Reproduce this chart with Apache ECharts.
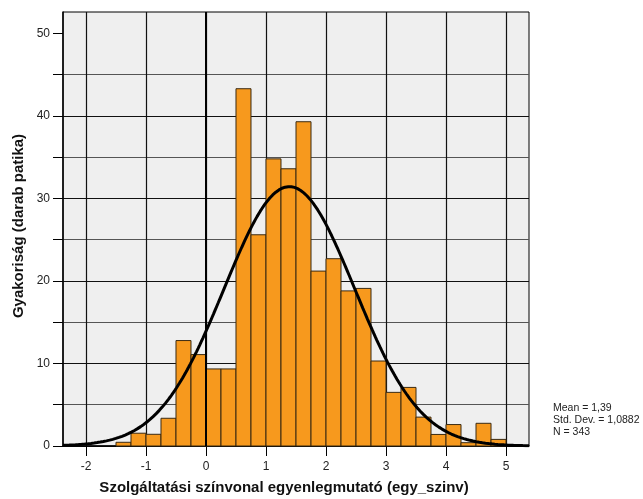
<!DOCTYPE html>
<html>
<head>
<meta charset="utf-8">
<script src="https://cdn.jsdelivr.net/npm/echarts@6/dist/echarts.min.js"></script>
<style>
  html, body { margin: 0; padding: 0; background: #ffffff; }
  #chart { width: 643px; height: 499px; }
</style>
</head>
<body>
<div id="chart"></div>
<script>
// Histogram bins (lower edges) and weighted frequencies
const binStarts = [-1.5, -1.25, -1, -0.75, -0.5, -0.25, 0, 0.25, 0.5, 0.75, 1, 1.25, 1.5,
                   1.75, 2, 2.25, 2.5, 2.75, 3, 3.25, 3.5, 3.75, 4, 4.25, 4.5, 4.75];
const binWidth = 0.25;
const counts = [0.45, 1.55, 1.42, 3.36, 12.78, 11.08, 9.34, 9.34, 43.3, 25.6, 34.8, 33.6, 39.3,
                21.2, 22.7, 18.8, 19.1, 10.3, 6.5, 7.1, 3.5, 1.4, 2.6, 0.4, 2.75, 0.8];

// Summary statistics shown beside the chart
const mean = 1.39;
const stdDev = 1.0882;
const nCases = 343;

// Axis ranges and tick labels
const xRange = [-2.383, 5.383];
const xTicks = [-2, -1, 0, 1, 2, 3, 4, 5];
const yRange = [0, 52.6];
const yTicks = [0, 10, 20, 30, 40, 50];
const yMinorTicks = [0, 5, 10, 15, 20, 25, 30, 35, 40, 45, 50];

const barData = binStarts.map((s, i) => [s, s + binWidth, counts[i]]);

// Normal curve fitted with the stated mean, std. dev. and N (scaled to bin width)
const curveData = [];
const steps = 300;
for (let k = 0; k <= steps; k++) {
  const x = xRange[0] + (xRange[1] - xRange[0]) * k / steps;
  const z = (x - mean) / stdDev;
  const y = nCases * binWidth / (stdDev * Math.sqrt(2 * Math.PI)) * Math.exp(-0.5 * z * z);
  curveData.push([x, y]);
}

const fontMain = "'Liberation Sans', Arial, sans-serif";

const chart = echarts.init(document.getElementById('chart'), null, { renderer: 'canvas' });

chart.setOption({
  animation: false,
  backgroundColor: '#ffffff',
  grid: {
    left: 63, top: 12, right: 114, bottom: 53,
    show: true,
    backgroundColor: '#efefef',
    borderColor: '#000000',
    borderWidth: 1,
    containLabel: false
  },
  xAxis: {
    type: 'value',
    min: xRange[0],
    max: xRange[1],
    splitNumber: 8,
    axisLine: { show: true, onZero: false, lineStyle: { color: '#000', width: 1.5 } },
    axisTick: { show: true, length: 10, customValues: xTicks, lineStyle: { color: '#000', width: 1 } },
    axisLabel: {
      customValues: xTicks,
      margin: 15,
      color: '#222',
      fontSize: 12,
      fontFamily: fontMain,
      formatter: v => String(v).replace('.', ',')
    },
    splitLine: { show: true, lineStyle: { color: '#111', width: 1.2 } }
  },
  yAxis: {
    type: 'value',
    min: yRange[0],
    max: yRange[1],
    interval: 5,
    axisLine: { show: true, onZero: false, lineStyle: { color: '#000', width: 1.5 } },
    axisTick: { show: true, length: 10, customValues: yMinorTicks, lineStyle: { color: '#000', width: 1 } },
    axisLabel: {
      customValues: yTicks,
      margin: 13,
      color: '#222',
      fontSize: 12,
      fontFamily: fontMain
    },
    splitLine: { show: true, showMaxLine: false, lineStyle: { color: ['#111', '#555'], width: 1.2 } }
  },
  series: [
    {
      type: 'custom',
      name: 'Gyakoriság',
      data: barData,
      encode: { x: [0, 1], y: 2 },
      renderItem: function (params, api) {
        const p0 = api.coord([api.value(0), 0]);
        const p1 = api.coord([api.value(1), api.value(2)]);
        return {
          type: 'rect',
          shape: { x: p0[0], y: p1[1], width: p1[0] - p0[0], height: p0[1] - p1[1] },
          style: { fill: '#f7991d', stroke: '#3a2a12', lineWidth: 1 }
        };
      },
      markLine: {
        silent: true,
        symbol: 'none',
        label: { show: false },
        lineStyle: { color: '#000', width: 2, type: 'solid' },
        data: [{ xAxis: 0 }]
      },
      z: 2
    },
    {
      type: 'line',
      name: 'Normal',
      data: curveData,
      showSymbol: false,
      smooth: false,
      lineStyle: { color: '#000', width: 3 },
      z: 3
    }
  ],
  graphic: [
    {
      type: 'text',
      x: 19, y: 226,
      rotation: Math.PI / 2,
      style: {
        text: 'Gyakoriság (darab patika)',
        font: "bold 15px " + fontMain,
        fill: '#111',
        align: 'center',
        verticalAlign: 'middle'
      }
    },
    {
      type: 'text',
      x: 284, y: 488,
      style: {
        text: 'Szolgáltatási színvonal egyenlegmutató (egy_szinv)',
        font: "bold 15px " + fontMain,
        fill: '#111',
        align: 'center',
        verticalAlign: 'middle'
      }
    },
    {
      type: 'text',
      left: 553, top: 402,
      style: {
        text: 'Mean = ' + String(mean).replace('.', ',') +
              '\nStd. Dev. = ' + String(stdDev).replace('.', ',') +
              '\nN = ' + nCases,
        font: "10.5px " + fontMain,
        lineHeight: 12,
        fill: '#222'
      }
    }
  ]
});
</script>
</body>
</html>
